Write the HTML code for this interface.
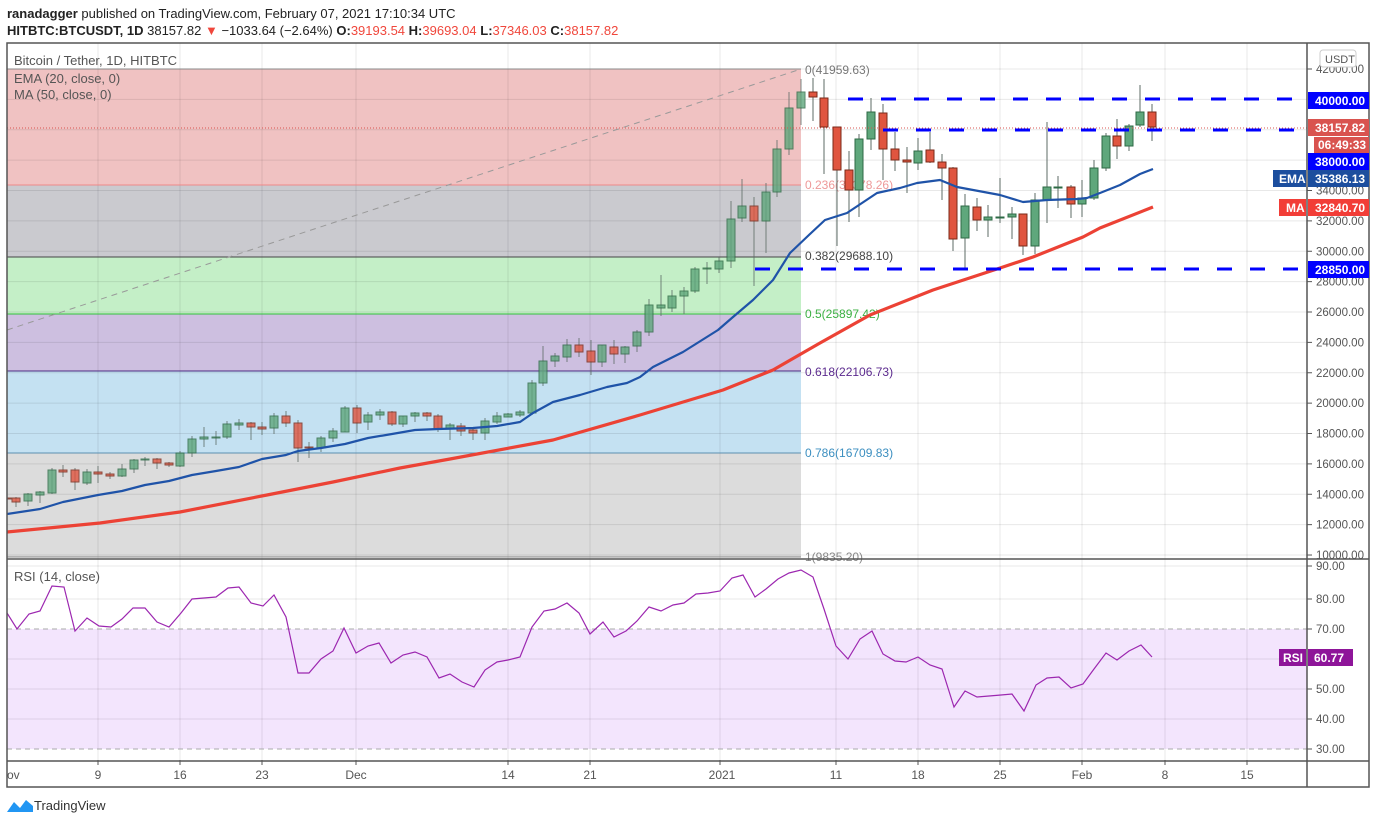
<!DOCTYPE html>
<html><head><meta charset="utf-8"><style>
html,body{margin:0;padding:0;background:#fff;width:1376px;height:824px;overflow:hidden;font-family:"Liberation Sans",sans-serif}
svg{position:absolute;left:0;top:0}
</style></head><body>
<svg id="s" width="1376" height="824" xmlns="http://www.w3.org/2000/svg" font-family="Liberation Sans, sans-serif">
<defs><clipPath id="cp"><rect x="7" y="43" width="1300" height="716"/></clipPath></defs>
<rect width="1376" height="824" fill="#fff"/>
<text x="7" y="18" font-size="13" fill="#222"><tspan font-weight="bold">ranadagger</tspan> published on TradingView.com, February 07, 2021 17:10:34 UTC</text>
<text x="7" y="35" font-size="13" fill="#222"><tspan font-weight="bold">HITBTC:BTCUSDT, 1D</tspan> 38157.82 <tspan fill="#f0473c">▼</tspan> −1033.64 (−2.64%) <tspan font-weight="bold">O:</tspan><tspan fill="#f0473c">39193.54</tspan> <tspan font-weight="bold">H:</tspan><tspan fill="#f0473c">39693.04</tspan> <tspan font-weight="bold">L:</tspan><tspan fill="#f0473c">37346.03</tspan> <tspan font-weight="bold">C:</tspan><tspan fill="#f0473c">38157.82</tspan></text>
<g id="bg"></g>
<g id="grid"></g>
<g id="fib"></g>
<g id="cand" clip-path="url(#cp)"></g>
<g id="lines" clip-path="url(#cp)"></g>
<g id="over"></g>
</svg>
<script>
const NS="http://www.w3.org/2000/svg";
function el(p,t,a,txt){const e=document.createElementNS(NS,t);for(const k in a)e.setAttribute(k,a[k]);if(txt!==undefined)e.textContent=txt;document.getElementById(p).appendChild(e);return e;}
const Y=p=>69+(42000-p)*0.015188;
const zones=[[69,185,"#f0c2c2"],[185,257,"#cacacf"],[257,314,"#c4efc7"],[314,371,"#cdbfe0"],[371,453,"#c4e1f2"],[453,557,"#dcdcdc"]];
zones.forEach(z=>el("bg","rect",{x:7,y:z[0],width:794,height:z[1]-z[0],fill:z[2]}));
el("bg","rect",{x:7,y:629,width:1300,height:120,fill:"#f3e5fd"});
for(let p=10000;p<=42000;p+=2000){el("grid","line",{x1:7,x2:1307,y1:Y(p),y2:Y(p),stroke:"#000","stroke-opacity":0.09,"stroke-width":1});}
[566,599,659,689,719].forEach(y=>el("grid","line",{x1:7,x2:1307,y1:y,y2:y,stroke:"#000","stroke-opacity":0.09}));
[98,180,262,356,508,590,720,836,918,1000,1082,1165,1247].forEach(x=>{el("grid","line",{x1:x,x2:x,y1:43,y2:760,stroke:"#000","stroke-opacity":0.09});el("grid","line",{x1:x,x2:x,y1:760,y2:765,stroke:"#555"});});
[629,749].forEach(y=>el("grid","line",{x1:7,x2:1307,y1:y,y2:y,stroke:"#aaa","stroke-dasharray":"5 4"}));
el("fib","line",{x1:7,y1:69,x2:801,y2:69,stroke:"#888"});
el("fib","line",{x1:7,y1:185,x2:801,y2:185,stroke:"#e88"});
el("fib","line",{x1:7,y1:257,x2:801,y2:257,stroke:"#444"});
el("fib","line",{x1:7,y1:314,x2:801,y2:314,stroke:"#2fc03a"});
el("fib","line",{x1:7,y1:371,x2:801,y2:371,stroke:"#4a2a80"});
el("fib","line",{x1:7,y1:453,x2:801,y2:453,stroke:"#5b8fb0"});
el("fib","line",{x1:7,y1:557,x2:801,y2:557,stroke:"#888"});
el("fib","line",{x1:7,y1:330,x2:801,y2:69,stroke:"#999","stroke-dasharray":"6 5"});
const fl=[[74,"0(41959.63)","#777"],[189,"0.236(34378.26)","#e99"],[260,"0.382(29688.10)","#444"],[318,"0.5(25897.42)","#3cb043"],[376,"0.618(22106.73)","#5b2a8e"],[457,"0.786(16709.83)","#3c8fc0"],[561,"1(9835.20)","#888"]];
fl.forEach(f=>el("fib","text",{x:805,y:f[0],"font-size":12,fill:f[2]},f[1]));
const C=[[7,498,499,497,500],[16,498,502,497,507],[28,501,494,493,506],[40,495,492,491,503],[52,493,470,468,494],[63,470,472,465,477],[75,470,482,468,490],[87,483,472,469,485],[98,472,474,466,483],[110,474,476,472,479],[122,476,469,464,477],[134,469,460,459,473],[145,460,459,457,466],[157,459,463,458,469],[169,463,465,462,467],[180,466,453,451,467],[192,453,439,436,457],[204,439,437,427,447],[216,438,437,431,445],[227,437,424,421,439],[239,425,423,419,430],[251,423,427,422,440],[262,427,429,422,435],[274,428,416,413,434],[286,416,423,411,427],[298,423,448,420,462],[309,447,448,442,458],[321,448,438,436,452],[333,438,431,428,442],[345,432,408,406,432],[357,408,423,405,433],[368,422,415,412,430],[380,415,412,409,420],[392,412,424,411,426],[403,424,416,416,427],[415,416,413,412,422],[427,413,416,412,421],[438,416,429,414,432],[450,429,425,423,440],[461,426,431,423,436],[473,430,433,427,440],[485,433,421,418,440],[497,422,416,412,424],[508,417,414,413,417],[520,415,412,410,417],[532,413,383,380,415],[543,383,361,346,386],[555,361,356,353,367],[567,357,345,339,362],[579,345,352,338,357],[591,351,362,340,375],[602,362,345,345,367],[614,347,354,340,364],[625,354,347,346,363],[637,346,332,330,352],[649,332,305,299,336],[661,308,305,275,316],[672,308,296,290,312],[684,296,291,287,314],[695,291,269,267,293],[707,269,268,262,284],[719,269,261,257,273],[731,261,219,201,268],[742,218,206,179,222],[754,206,221,197,286],[766,221,192,183,253],[777,192,149,140,197],[789,149,108,92,155],[801,108,92,79,125],[813,92,97,78,121],[824,98,127,79,174],[837,127,170,127,246],[849,170,190,151,222],[859,190,139,134,217],[871,139,112,98,150],[883,113,149,104,180],[895,149,160,132,171],[907,160,162,147,193],[918,163,151,138,170],[930,150,162,132,163],[942,162,168,154,200],[953,168,239,167,251],[965,238,206,194,268],[977,207,220,198,231],[988,220,217,205,237],[1000,217,217,178,223],[1012,217,214,207,239],[1023,214,246,214,255],[1035,246,200,193,254],[1047,200,187,122,223],[1058,187,187,176,208],[1071,187,204,185,218],[1082,204,198,180,217],[1094,198,168,160,200],[1106,168,136,133,171],[1117,136,146,119,159],[1129,146,126,124,151],[1140,125,112,85,127],[1152,112,127,104,141]];
C.forEach(c=>{const[x,o,cl,h,l]=c;const red=cl>o;const top=Math.min(o,cl),bot=Math.max(o,cl);const op=x<=801?0.8:1;
el("cand","line",{x1:x,x2:x,y1:h,y2:l,stroke:"#5d6b66","stroke-width":1,opacity:op});
el("cand","rect",{x:x-4,y:top,width:8,height:Math.max(1,bot-top),fill:red?"#e0553f":"#5fa77c",stroke:red?"#7a2a1a":"#2d6a45","stroke-width":1,opacity:op});});
const E=[[7,514],[40,509],[63,502],[98,495],[122,491],[145,485],[169,481],[192,475],[216,471],[239,467],[262,459],[286,455],[298,451],[321,448],[345,444],[368,438],[392,434],[415,430],[438,429],[473,428],[497,426],[520,422],[533,413],[553,402],[580,395],[607,387],[627,383],[640,377],[653,367],[683,352],[718,330],[733,317],[753,300],[773,280],[790,253],[810,234],[825,220],[847,213],[877,193],[900,188],[917,183],[940,180],[957,187],[1000,195],[1023,202],[1047,200],[1077,199],[1087,198],[1100,193],[1120,185],[1140,174],[1153,169]];
const M=[[7,532],[100,523],[180,512],[267,495],[333,482],[400,468],[450,459],[553,440],[640,415],[723,390],[773,370],[820,343],[870,315],[933,290],[1000,268],[1033,257],[1083,237],[1100,228],[1153,207]];
el("lines","polyline",{points:M.map(p=>p.join(",")).join(" "),fill:"none",stroke:"#ec4235","stroke-width":3.2,"stroke-linejoin":"round"});
el("lines","polyline",{points:E.map(p=>p.join(",")).join(" "),fill:"none",stroke:"#1f53a8","stroke-width":2.2,"stroke-linejoin":"round"});
const R=[[7,613],[17,629],[29,614],[40,611],[52,586],[64,587],[75,631],[87,618],[99,626],[111,627],[122,619],[133,608],[145,608],[157,622],[169,627],[181,613],[192,599],[204,598],[216,597],[228,588],[239,587],[251,603],[263,606],[274,595],[286,617],[298,673],[309,673],[321,659],[333,651],[344,628],[356,653],[368,646],[379,643],[391,663],[403,655],[415,652],[427,657],[439,678],[450,674],[462,682],[474,687],[485,670],[497,662],[508,660],[520,657],[532,627],[544,611],[555,609],[567,603],[579,613],[590,634],[603,622],[614,637],[626,631],[637,621],[649,607],[661,611],[673,605],[684,603],[696,594],[708,593],[720,591],[732,578],[743,575],[755,597],[766,589],[778,579],[789,573],[801,570],[813,577],[824,609],[836,646],[848,659],[860,639],[872,631],[883,654],[895,661],[906,662],[918,657],[930,665],[942,669],[954,707],[965,691],[977,697],[989,696],[1001,695],[1012,694],[1024,711],[1036,685],[1047,678],[1059,677],[1071,688],[1083,684],[1094,669],[1106,653],[1117,660],[1129,651],[1141,645],[1152,657]];
el("lines","polyline",{points:R.map(p=>p.join(",")).join(" "),fill:"none",stroke:"#9c27b0","stroke-width":1.2});
el("lines","line",{x1:848,x2:1307,y1:99,y2:99,stroke:"#0000ff","stroke-width":3,"stroke-dasharray":"15 18"});
el("lines","line",{x1:883,x2:1307,y1:130,y2:130,stroke:"#0000ff","stroke-width":3,"stroke-dasharray":"15 18"});
el("lines","line",{x1:755,x2:1307,y1:269,y2:269,stroke:"#0000ff","stroke-width":3,"stroke-dasharray":"15 18"});
el("lines","line",{x1:7,x2:1307,y1:128,y2:128,stroke:"#d9534f","stroke-width":1,"stroke-dasharray":"1 2"});
el("over","rect",{x:7,y:43,width:1362,height:744,fill:"none",stroke:"#555","stroke-width":1.5});
el("over","line",{x1:1307,x2:1307,y1:43,y2:787,stroke:"#555","stroke-width":1.5});
el("over","line",{x1:7,x2:1369,y1:559,y2:559,stroke:"#555","stroke-width":1.5});
el("over","line",{x1:7,x2:1369,y1:761,y2:761,stroke:"#555","stroke-width":1.5});
el("over","text",{x:14,y:65,"font-size":13,fill:"#555"},"Bitcoin / Tether, 1D, HITBTC");
el("over","text",{x:14,y:83,"font-size":13,fill:"#555"},"EMA (20, close, 0)");
el("over","text",{x:14,y:99,"font-size":13,fill:"#555"},"MA (50, close, 0)");
el("over","text",{x:14,y:581,"font-size":13,fill:"#555"},"RSI (14, close)");
for(let p=10000;p<=42000;p+=2000){if([40000,38000,36000].includes(p))continue;const y=Y(p);el("over","line",{x1:1307,x2:1312,y1:y,y2:y,stroke:"#555"});el("over","text",{x:1316,y:y+4,"font-size":11.5,fill:"#555"},p+".00");}
[[566,"90.00"],[599,"80.00"],[629,"70.00"],[689,"50.00"],[719,"40.00"],[749,"30.00"]].forEach(a=>{el("over","line",{x1:1307,x2:1312,y1:a[0],y2:a[0],stroke:"#555"});el("over","text",{x:1316,y:a[0]+4,"font-size":11.5,fill:"#555"},a[1]);});
el("over","rect",{x:1320,y:50,width:36,height:17,rx:3,fill:"#fff",stroke:"#ccc"});
el("over","text",{x:1325,y:63,"font-size":11,fill:"#555"},"USDT");
function badge(x,y,w,h,col,t,tx){el("over","rect",{x:x,y:y,width:w,height:h,fill:col});el("over","text",{x:tx,y:y+h-4,"font-size":12,"font-weight":"bold",fill:"#fff"},t);}
badge(1308,92,61,17,"#0000ff","40000.00",1315);
badge(1308,119,61,17,"#d9534f","38157.82",1315);
badge(1314,137,55,16,"#d9534f","06:49:33",1318);
badge(1308,153,61,17,"#0000ff","38000.00",1315);
badge(1273,170,33,17,"#1c4e9e","EMA",1279);
badge(1308,170,61,17,"#1c4e9e","35386.13",1315);
badge(1279,199,27,17,"#f23d37","MA",1286);
badge(1308,199,61,17,"#f23d37","32840.70",1315);
badge(1308,261,61,17,"#0000ff","28850.00",1315);
badge(1279,649,27,17,"#8e1599","RSI",1283);
badge(1308,649,45,17,"#8e1599","60.77",1314);
[[7,"ov"],[98,"9"],[180,"16"],[262,"23"],[356,"Dec"],[508,"14"],[590,"21"],[722,"2021"],[836,"11"],[918,"18"],[1000,"25"],[1082,"Feb"],[1165,"8"],[1247,"15"]].forEach(a=>el("over","text",{x:a[0],y:779,"font-size":12,fill:"#555","text-anchor":a[0]===7?"start":"middle"},a[1]));
el("over","path",{d:"M7 812 L14 802 L20 808 L26 800 L33 806 L33 812 Z",fill:"#2196f3"});
el("over","text",{x:34,y:810,"font-size":13,fill:"#333"},"TradingView");
</script>
</body></html>
